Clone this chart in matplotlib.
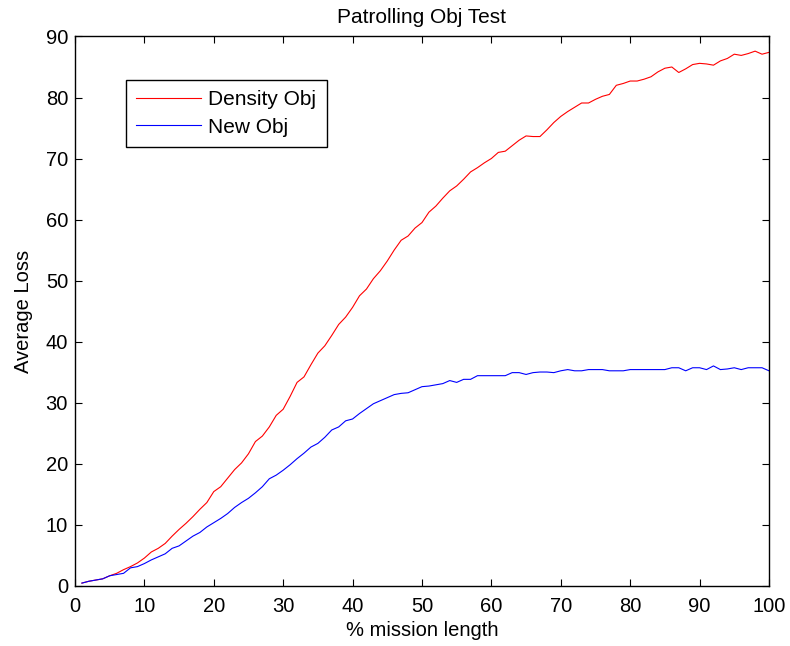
import matplotlib
matplotlib.use('Agg')
import matplotlib.pyplot as plt

plt.rcParams['font.family'] = ['Liberation Sans', 'DejaVu Sans']

# % mission length
x_pct = list(range(1, 101))

density_obj = [
    0.4, 0.7, 0.9, 1.1, 1.6, 2.0, 2.6, 3.1, 3.7, 4.5,
    5.5, 6.1, 6.9, 8.1, 9.2, 10.2, 11.3, 12.5, 13.6, 15.4,
    16.2, 17.6, 19.0, 20.1, 21.6, 23.6, 24.5, 26.0, 27.9, 28.9,
    31.0, 33.3, 34.2, 36.2, 38.1, 39.3, 41.0, 42.8, 44.0, 45.6,
    47.5, 48.6, 50.3, 51.6, 53.2, 55.0, 56.6, 57.3, 58.6, 59.5,
    61.2, 62.2, 63.5, 64.7, 65.5, 66.6, 67.8, 68.5, 69.3, 70.0,
    71.0, 71.2, 72.1, 73.0, 73.7, 73.6, 73.6, 74.7, 75.9, 76.9,
    77.7, 78.4, 79.1, 79.1, 79.7, 80.2, 80.5, 82.0, 82.3, 82.7,
    82.7, 83.0, 83.4, 84.2, 84.8, 85.0, 84.1, 84.7, 85.4, 85.6,
    85.5, 85.3, 86.0, 86.4, 87.1, 86.9, 87.2, 87.6, 87.1, 87.4,
]

new_obj = [
    0.4, 0.7, 0.9, 1.1, 1.6, 1.8, 2.0, 2.9, 3.1, 3.6,
    4.2, 4.7, 5.2, 6.1, 6.5, 7.3, 8.1, 8.7, 9.6, 10.3,
    11.0, 11.8, 12.8, 13.6, 14.3, 15.2, 16.2, 17.5, 18.1, 18.9,
    19.8, 20.8, 21.7, 22.7, 23.3, 24.3, 25.5, 26.0, 27.0, 27.3,
    28.2, 29.0, 29.8, 30.3, 30.8, 31.3, 31.5, 31.6, 32.1, 32.6,
    32.7, 32.9, 33.1, 33.6, 33.3, 33.8, 33.8, 34.4, 34.4, 34.4,
    34.4, 34.4, 34.9, 34.9, 34.6, 34.9, 35.0, 35.0, 34.9, 35.2,
    35.4, 35.2, 35.2, 35.4, 35.4, 35.4, 35.2, 35.2, 35.2, 35.4,
    35.4, 35.4, 35.4, 35.4, 35.4, 35.7, 35.7, 35.2, 35.7, 35.7,
    35.4, 36.0, 35.4, 35.5, 35.7, 35.4, 35.7, 35.7, 35.7, 35.2,
]

fig = plt.figure(figsize=(7.9, 6.46), dpi=100)
ax = fig.add_axes([0.0949, 0.0936, 0.8785, 0.8499])

ax.plot(x_pct, density_obj, color='red', linewidth=0.8, label='Density Obj')
ax.plot(x_pct, new_obj, color='blue', linewidth=0.8, label='New Obj')

ax.set_xlim(0, 100)
ax.set_ylim(0, 90)
ax.set_xticks(range(0, 101, 10))
ax.set_yticks(range(0, 91, 10))

ax.tick_params(direction='in', top=True, right=True, length=5, width=0.8,
               labelsize=14.5)
ax.tick_params(axis='x', pad=8)
ax.tick_params(axis='y', pad=5)
for s in ax.spines.values():
    s.set_linewidth(1.0)

ax.set_title('Patrolling Obj Test', fontsize=15, pad=10)
ax.set_xlabel('% mission length', fontsize=14.5, labelpad=4)
ax.set_ylabel('Average Loss', fontsize=14.5, labelpad=9)

leg = ax.legend(loc='upper left', bbox_to_anchor=(0.0735, 0.921), borderaxespad=0,
                fontsize=15, handlelength=3.1, handletextpad=0.35, fancybox=False,
                edgecolor='black', framealpha=1, borderpad=0.5, labelspacing=0.4)
leg.get_frame().set_linewidth(1.0)

fig.savefig('out.png', dpi=100)
